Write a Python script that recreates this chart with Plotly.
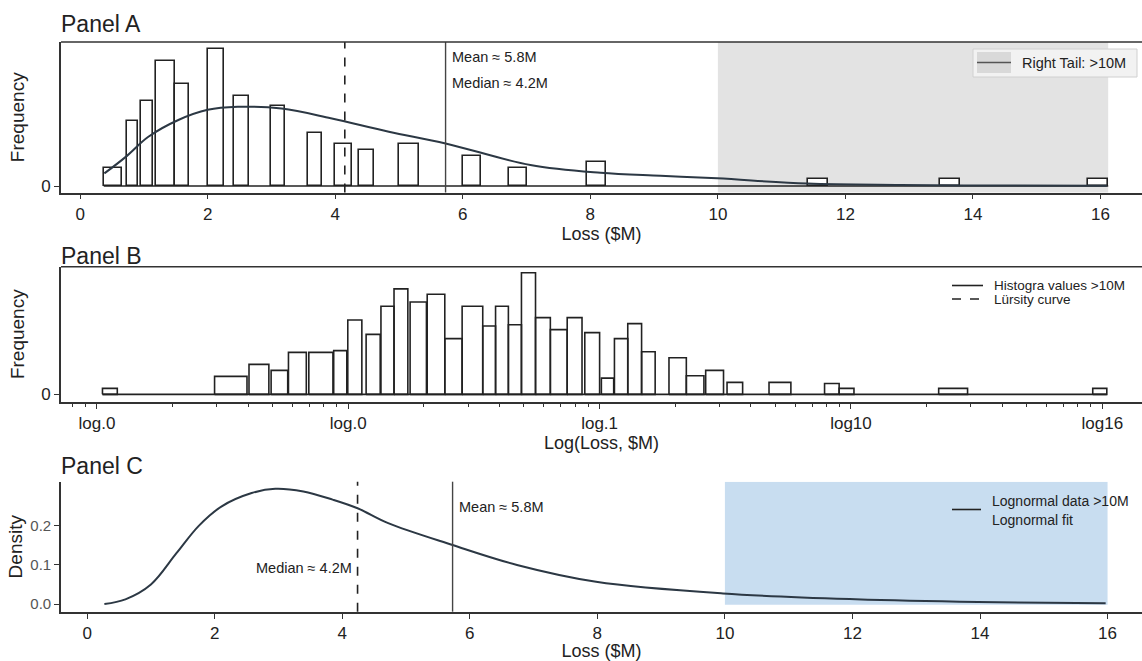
import plotly.graph_objects as go

# ---------------- Panel A: histogram of losses ($M) ----------------
a_left = [0.37, 0.73, 0.95, 1.19, 1.49, 2.00, 2.41, 2.99, 3.57, 4.00, 4.38, 5.00, 6.00, 6.73, 7.94, 11.42, 13.48, 15.81]
a_right = [0.66, 0.91, 1.14, 1.49, 1.71, 2.25, 2.64, 3.22, 3.80, 4.27, 4.61, 5.32, 6.28, 7.00, 8.24, 11.73, 13.80, 16.12]
a_freq = [3.05, 10.9, 14.2, 20.9, 17.0, 22.9, 15.0, 13.3, 8.9, 7.0, 6.0, 7.0, 5.0, 3.05, 4.0, 1.2, 1.2, 1.2]

a_curve_x = [0.38, 0.72, 1.07, 1.54, 2.0, 2.47, 3.16, 3.93, 4.84, 5.73, 7.06, 8.16, 9.1, 9.99, 11.4, 12.86, 14.5, 16.1]
a_curve_y = [2.1, 4.9, 8.2, 11.0, 12.7, 13.2, 12.9, 11.3, 9.05, 7.1, 3.5, 2.2, 1.7, 1.28, 0.4, 0.17, 0.08, 0.05]

a_mean, a_median = 5.73, 4.15
a_tail = [10.0, 16.12]
a_xticks = [0, 2, 4, 6, 8, 10, 12, 14, 16]

# ---------------- Panel B: histogram on log scale ----------------
b_log_left = [-1.978, -1.532, -1.395, -1.307, -1.238, -1.157, -1.058, -1.002, -0.929, -0.870, -0.818, -0.754,
              -0.686, -0.616, -0.547, -0.465, -0.414, -0.363, -0.311, -0.255, -0.196, -0.129, -0.059, 0.007,
              0.059, 0.112, 0.167, 0.276, 0.345, 0.422, 0.507, 0.674, 0.895, 0.953, 1.349, 1.962]
b_log_right = [-1.919, -1.403, -1.316, -1.241, -1.167, -1.061, -1.006, -0.946, -0.873, -0.818, -0.763, -0.689,
               -0.616, -0.547, -0.465, -0.414, -0.363, -0.311, -0.255, -0.196, -0.129, -0.070, 0.0, 0.056,
               0.112, 0.167, 0.221, 0.345, 0.415, 0.493, 0.569, 0.761, 0.953, 1.012, 1.464, 2.018]
b_freq = [1, 3, 5, 4, 7, 7, 7.3, 12.4, 10, 14.7, 17.6, 15.4, 16.7, 9.3, 14.7, 11.4, 14.7, 11.6, 20.3, 12.8,
          10.8, 12.8, 10.3, 2.7, 9.3, 11.8, 7.1, 6.1, 3.1, 4, 2, 2, 1.8, 1, 1, 1]
b_tickvals = [0.01, 0.1, 1, 10, 100]
b_ticktext = ["log.0", "log.0", "log.1", "log10", "log16"]

# ---------------- Panel C: lognormal density ----------------
c_x = [0.27, 0.6, 1.0, 1.4, 1.75, 2.11, 2.58, 2.95, 3.39, 3.85, 4.24, 4.72, 5.73, 6.74, 7.98,
       9.97, 12.05, 13.97, 15.97]
c_y = [0.0, 0.012, 0.05, 0.13, 0.2, 0.25, 0.284, 0.295, 0.288, 0.267, 0.245, 0.207, 0.151, 0.10,
       0.057, 0.027, 0.012, 0.005, 0.002]
c_mean, c_median = 5.73, 4.24
c_tail = [10.0, 16.0]
c_yticks = [0.0, 0.1, 0.2]

W, H = 1142, 661
FONT = "Liberation Sans, Arial, sans-serif"
INK = "#222222"
AX = "#333333"
CURVE = "#2c3844"


def py(p):
    return 1 - p / H


fig = go.Figure()

# Panel A bars
fig.add_trace(go.Bar(
    x=[(l + r) / 2 for l, r in zip(a_left, a_right)], y=a_freq,
    width=[r - l for l, r in zip(a_left, a_right)],
    marker=dict(color="white", line=dict(color=INK, width=1.6)),
    xaxis="x", yaxis="y", showlegend=False))
fig.add_trace(go.Scatter(x=[min(a_left), max(a_right)], y=[0, 0], mode="lines",
                         line=dict(color=INK, width=1.6), xaxis="x", yaxis="y", showlegend=False))
fig.add_trace(go.Scatter(x=a_curve_x, y=a_curve_y, mode="lines", line=dict(color=CURVE, width=2, shape="spline", smoothing=1.0),
                         xaxis="x", yaxis="y", showlegend=False))

# Panel B bars (polygons on a log axis)
bx, by = [], []
for l, r, f in zip(b_log_left, b_log_right, b_freq):
    L, R = 10 ** l, 10 ** r
    bx += [L, L, R, R, L, None]
    by += [0, f, f, 0, 0, None]
fig.add_trace(go.Scatter(x=bx, y=by, mode="lines", fill="toself", fillcolor="white",
                         line=dict(color=INK, width=1.6), xaxis="x2", yaxis="y2", showlegend=False))
fig.add_trace(go.Scatter(x=[10 ** min(b_log_left), 10 ** max(b_log_right)], y=[0, 0], mode="lines",
                         line=dict(color=INK, width=1.6), xaxis="x2", yaxis="y2", showlegend=False))

# Panel C curve
fig.add_trace(go.Scatter(x=c_x, y=c_y, mode="lines", line=dict(color=CURVE, width=2, shape="spline", smoothing=1.0),
                         xaxis="x3", yaxis="y3", showlegend=False))

shapes = []
# Panel A tail shading + vertical lines
shapes.append(dict(type="rect", xref="x", yref="y domain", x0=a_tail[0], x1=a_tail[1], y0=0, y1=1,
                   fillcolor="#e3e3e3", line=dict(width=0), layer="below"))
shapes.append(dict(type="line", xref="x", yref="y domain", x0=a_median, x1=a_median, y0=0, y1=1,
                   line=dict(color=INK, width=1.6, dash="dash")))
shapes.append(dict(type="line", xref="x", yref="y domain", x0=a_mean, x1=a_mean, y0=0, y1=1,
                   line=dict(color="#444444", width=1.4)))
# Panel C tail shading + vertical lines
shapes.append(dict(type="rect", xref="x3", yref="y3", x0=c_tail[0], x1=c_tail[1], y0=-0.002, y1=0.313,
                   fillcolor="#c8ddf0", line=dict(width=0), layer="below"))
shapes.append(dict(type="line", xref="x3", yref="y3 domain", x0=c_median, x1=c_median, y0=0, y1=1,
                   line=dict(color=INK, width=1.6, dash="dash")))
shapes.append(dict(type="line", xref="x3", yref="y3 domain", x0=c_mean, x1=c_mean, y0=0, y1=1,
                   line=dict(color="#444444", width=1.4)))

# Legend A (box, grey patch, line)
shapes.append(dict(type="rect", xref="paper", yref="paper", x0=973 / W, x1=1137 / W, y0=py(77), y1=py(49),
                   fillcolor="#f2f2f2", line=dict(color="#d0d0d0", width=1)))
shapes.append(dict(type="rect", xref="paper", yref="paper", x0=977 / W, x1=1011 / W, y0=py(73), y1=py(52),
                   fillcolor="#d9d9d9", line=dict(width=0)))
shapes.append(dict(type="line", xref="paper", yref="paper", x0=977 / W, x1=1011 / W, y0=py(62.5), y1=py(62.5),
                   line=dict(color="#555555", width=1.6)))
# Legend B
shapes.append(dict(type="line", xref="paper", yref="paper", x0=952 / W, x1=983 / W, y0=py(285.5), y1=py(285.5),
                   line=dict(color=INK, width=1.6)))
shapes.append(dict(type="line", xref="paper", yref="paper", x0=952 / W, x1=983 / W, y0=py(299), y1=py(299),
                   line=dict(color=INK, width=1.6, dash="dash")))
# Legend C
shapes.append(dict(type="line", xref="paper", yref="paper", x0=952 / W, x1=981 / W, y0=py(509.5), y1=py(509.5),
                   line=dict(color=INK, width=1.6)))

ann = []


def txt(x, y, s, size=14.5, xanchor="left", color=INK):
    ann.append(dict(xref="paper", yref="paper", x=x / W, y=py(y), text=s, showarrow=False,
                    xanchor=xanchor, yanchor="middle", borderpad=0,
                    font=dict(size=size, color=color, family=FONT)))


txt(60, 24, "Panel A", 23)
txt(60, 256, "Panel B", 23)
txt(60, 466, "Panel C", 23)
txt(451, 57, "Mean ≈ 5.8M")
txt(451, 83, "Median ≈ 4.2M")
txt(1021, 62.5, "Right Tail: >10M")
txt(993, 285.5, "Histogra values >10M", 13.5)
txt(993, 299, "Lürsity curve", 13.5)
txt(458, 507, "Mean ≈ 5.8M")
txt(353, 568, "Median ≈ 4.2M", xanchor="right")
txt(991, 501, "Lognormal data >10M", 14)
txt(991, 520, "Lognormal fit", 14)

axis_common = dict(showline=True, linecolor=AX, linewidth=1.6, showgrid=False, zeroline=False,
                   ticks="outside", ticklen=5, tickwidth=1.2, tickcolor=AX, automargin=False,
                   tickfont=dict(size=17, color=INK, family=FONT))

xl = 61 / W
fig.update_layout(
    width=W, height=H, margin=dict(l=0, r=0, t=0, b=0, autoexpand=False),
    paper_bgcolor="white", plot_bgcolor="white", bargap=0,
    font=dict(family=FONT, color=INK),
    showlegend=False,
    xaxis=dict(axis_common, domain=[xl, 1], anchor="y", range=[-0.3, 16.65], tickvals=a_xticks,
               title=dict(text="Loss ($M)", font=dict(size=18, family=FONT), standoff=0)),
    yaxis=dict(axis_common, domain=[py(192.5), py(42)], anchor="x", range=[-1.08, 24], tickvals=[0],
               title=dict(text="Frequency", font=dict(size=19, family=FONT), standoff=12)),
    xaxis2=dict(axis_common, domain=[xl, 1], anchor="y2", type="log", range=[-2.143, 2.158],
                tickmode="array", tickvals=b_tickvals, ticktext=b_ticktext,
                minor=dict(ticks="outside", ticklen=3, tickcolor=AX, dtick="D1"),
                title=dict(text="Log(Loss, $M)", font=dict(size=18, family=FONT), standoff=0)),
    yaxis2=dict(axis_common, domain=[py(401.7), py(266.7)], anchor="x2", range=[-1.23, 21.3], tickvals=[0],
                title=dict(text="Frequency", font=dict(size=19, family=FONT), standoff=12)),
    xaxis3=dict(axis_common, domain=[xl, 1], anchor="y3", range=[-0.41, 16.54], tickvals=a_xticks,
                title=dict(text="Loss ($M)", font=dict(size=18, family=FONT), standoff=0)),
    yaxis3=dict(axis_common, domain=[py(611.7), py(481.7)], anchor="x3", range=[-0.0197, 0.313],
                tickvals=c_yticks, ticktext=["0.0", "0.1", "0.2"],
                tickfont=dict(size=15, color="#555555", family=FONT),
                title=dict(text="Density", font=dict(size=19, family=FONT), standoff=3)),
    shapes=shapes, annotations=ann,
)

# top border lines for panels A and B
for yd in ["y", "y2"]:
    fig.add_shape(type="line", xref="paper", yref=yd + " domain", x0=xl, x1=1, y0=1, y1=1,
                  line=dict(color=AX, width=1.6))

fig.write_html("out.html", config={"displayModeBar": False},
               post_script="document.body.style.margin='0';document.body.style.overflow='hidden';")
